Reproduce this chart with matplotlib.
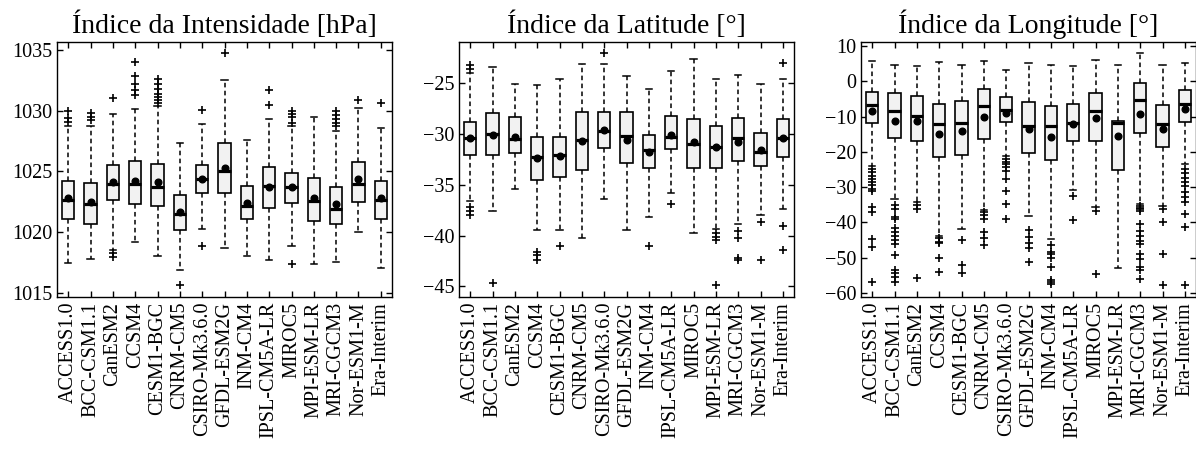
import matplotlib
matplotlib.use("Agg")
import matplotlib.pyplot as plt

plt.rcParams['font.family'] = ['Liberation Serif', 'DejaVu Serif']
plt.rcParams['axes.unicode_minus'] = True

models = ["ACCESS1.0", "BCC-CSM1.1", "CanESM2", "CCSM4", "CESM1-BGC", "CNRM-CM5",
          "CSIRO-Mk3.6.0", "GFDL-ESM2G", "INM-CM4", "IPSL-CM5A-LR", "MIROC5",
          "MPI-ESM-LR", "MRI-CGCM3", "Nor-ESM1-M", "Era-Interim"]

titles = ["Índice da Intensidade [hPa]", "Índice da Latitude [°]", "Índice da Longitude [°]"]

# ---- Intensity index [hPa] ----
int_q1 = [1021.1, 1020.7, 1022.7, 1022.3, 1022.2, 1020.2, 1023.2, 1023.2, 1021.1, 1022.0, 1022.4, 1020.95, 1020.65, 1022.5, 1021.1]
int_med = [1022.63, 1022.3, 1024.0, 1024.0, 1023.7, 1021.5, 1024.4, 1025.05, 1022.2, 1023.8, 1023.7, 1022.6, 1021.95, 1024.0, 1022.7]
int_q3 = [1024.24, 1024.05, 1025.5, 1025.85, 1025.6, 1023.1, 1025.55, 1027.35, 1023.8, 1025.35, 1024.9, 1024.5, 1023.7, 1025.75, 1024.2]
int_mean = [1022.8, 1022.5, 1024.1, 1024.25, 1024.1, 1021.65, 1024.4, 1025.3, 1022.4, 1023.7, 1023.7, 1022.85, 1022.35, 1024.35, 1022.85]
int_lo = [1017.5, 1017.85, 1018.55, 1019.2, 1018.1, 1016.95, 1020.3, 1018.7, 1018.05, 1017.7, 1018.9, 1017.4, 1017.6, 1020.05, 1017.1]
int_hi = [1028.7, 1028.7, 1029.7, 1030.15, 1030.4, 1027.35, 1028.9, 1032.5, 1027.6, 1029.3, 1028.75, 1029.5, 1028.3, 1030.25, 1028.6]
int_fliers = [
    [1030.0, 1029.4, 1029.05],
    [1029.8, 1029.5, 1029.2],
    [1031.0, 1018.3, 1018.0],
    [1034.0, 1032.8, 1032.2, 1031.7, 1031.3],
    [1032.6, 1032.2, 1031.8, 1031.4, 1031.15, 1030.9, 1030.65],
    [1015.65],
    [1030.05, 1018.9],
    [1034.7],
    [],
    [1031.7, 1030.45],
    [1030.0, 1029.75, 1029.5, 1029.0, 1017.4],
    [],
    [1030.0, 1029.6, 1029.3, 1029.0, 1028.7],
    [1030.85],
    [1030.6],
]

# ---- Latitude index [deg] ----
lat_q1 = [-32.1, -32.1, -31.9, -34.5, -34.3, -33.55, -31.4, -32.85, -33.4, -31.5, -33.4, -33.4, -32.7, -33.2, -32.3]
lat_med = [-30.4, -30.0, -30.55, -32.25, -32.1, -30.6, -29.7, -30.2, -31.6, -30.35, -31.05, -31.35, -30.45, -31.8, -30.45]
lat_q3 = [-28.8, -28.0, -28.4, -30.35, -30.3, -27.85, -27.85, -27.85, -30.1, -28.25, -28.55, -29.2, -28.5, -29.9, -28.6]
lat_mean = [-30.4, -30.1, -30.3, -32.4, -32.2, -30.7, -29.6, -30.65, -31.75, -30.1, -30.8, -31.35, -30.8, -31.6, -30.45]
lat_lo = [-36.6, -37.6, -35.4, -39.5, -39.5, -40.25, -36.45, -39.45, -38.2, -35.8, -39.8, -39.35, -38.9, -38.0, -37.4]
lat_hi = [-24.0, -23.4, -25.15, -25.2, -24.65, -23.15, -23.15, -24.35, -25.6, -23.85, -22.65, -24.6, -24.2, -25.1, -24.6]
lat_fliers = [
    [-23.2, -23.6, -37.2, -37.6, -38.0],
    [-44.7],
    [],
    [-41.6, -41.9, -42.4],
    [-41.0],
    [],
    [-22.1],
    [],
    [-41.0],
    [-36.95],
    [],
    [-39.8, -40.1, -40.4, -44.9],
    [-39.6, -40.2, -42.2, -42.4],
    [-38.7, -42.4],
    [-23.1, -39.1, -41.4],
]

# ---- Longitude index [deg] ----
lon_q1 = [-11.8, -16.1, -16.8, -21.4, -20.9, -16.4, -11.6, -20.4, -22.3, -16.8, -16.8, -25.2, -14.5, -18.5, -11.4]
lon_med = [-6.6, -8.3, -9.9, -12.0, -11.9, -7.0, -8.2, -12.7, -12.7, -11.7, -8.4, -11.7, -5.4, -12.0, -6.3]
lon_q3 = [-3.1, -3.3, -4.2, -6.3, -5.6, -2.2, -4.4, -5.8, -6.9, -6.3, -3.4, -11.3, -0.4, -6.7, -2.5]
lon_mean = [-8.3, -11.3, -11.3, -14.8, -14.2, -10.1, -8.9, -13.6, -15.7, -12.0, -10.5, -15.5, -9.3, -13.6, -7.7]
lon_lo = [-24.0, -33.3, -34.3, -43.9, -41.8, -36.6, -21.1, -38.2, -44.8, -30.7, -35.6, -52.9, -34.8, -35.3, -23.5]
lon_hi = [5.7, 4.7, 4.5, 5.6, 4.7, 5.9, 3.3, 5.2, 4.7, 4.4, 6.1, 4.8, 8.0, 4.8, 5.3]
lon_fliers = [
    [-24.9, -25.8, -26.8, -27.7, -28.6, -29.5, -30.4, -31.0, -35.7, -37.1, -44.8, -47.0, -56.8],
    [-35.2, -36.2, -38.5, -39.0, -41.5, -42.7, -43.9, -45.1, -46.2, -49.2, -53.5, -54.5, -55.5, -56.8],
    [-35.2, -36.2, -55.9],
    [-44.5, -45.5, -46.0, -50.0, -54.0],
    [-45.1, -52.1, -54.4],
    [-37.1, -38.0, -39.0, -42.7, -44.5, -46.5],
    [-22.1, -22.8, -23.5, -24.3, -25.3, -27.8, -31.1, -34.8, -39.0],
    [-42.2, -44.1, -46.0, -47.2, -51.2],
    [-46.5, -48.3, -49.0, -50.2, -52.8, -56.3, -57.0, -57.5],
    [-32.4, -39.3],
    [-36.9, -54.7],
    [],
    [-35.3, -35.8, -36.3, -36.7, -40.5, -42.4, -43.8, -45.2, -46.1, -49.0, -50.4, -52.7, -53.6, -56.0],
    [-36.2, -39.8, -49.0, -57.7],
    [-24.9, -26.0, -27.3, -28.5, -29.6, -31.5, -32.9, -34.3, -37.6, -41.4, -57.9],
]

yticks = [[1015, 1020, 1025, 1030, 1035],
          [-45, -40, -35, -30, -25],
          [-60, -50, -40, -30, -20, -10, 0, 10]]

panels = [
    (int_q1, int_med, int_q3, int_mean, int_lo, int_hi, int_fliers),
    (lat_q1, lat_med, lat_q3, lat_mean, lat_lo, lat_hi, lat_fliers),
    (lon_q1, lon_med, lon_q3, lon_mean, lon_lo, lon_hi, lon_fliers),
]

W, H = 1196, 450
fig = plt.figure(figsize=(W / 100, H / 100), dpi=100)
lefts = [57, 459, 861]
ax_w = 335
ax_top = 41.7
ax_bot = 297

for i, (q1, med, q3, mean, lo, hi, fl) in enumerate(panels):
    ax = fig.add_axes([lefts[i] / W, 1 - ax_bot / H, ax_w / W, (ax_bot - ax_top) / H])
    stats = []
    for k in range(len(models)):
        stats.append(dict(med=med[k], q1=q1[k], q3=q3[k], whislo=lo[k], whishi=hi[k],
                          mean=mean[k], fliers=fl[k], label=models[k]))
    ax.bxp(stats, positions=range(1, len(models) + 1), widths=0.55, patch_artist=True,
           showmeans=True, capwidths=0.27,
           boxprops=dict(facecolor='#f2f2f2', edgecolor='black', linewidth=1.2),
           medianprops=dict(color='black', linewidth=2.3),
           whiskerprops=dict(color='black', linewidth=1.1, linestyle=(0, (3, 2.2))),
           capprops=dict(color='black', linewidth=1.1),
           meanprops=dict(marker='o', markerfacecolor='black', markeredgecolor='black', markersize=4.8),
           flierprops=dict(marker='+', markeredgecolor='black', markersize=6, markeredgewidth=1.2))
    ax.set_xlim(0.5, len(models) + 0.5)
    ax.set_yticks(yticks[i])
    ax.tick_params(axis='both', direction='in', top=True, right=True, labelsize=14.5,
                   length=4.5, width=1)
    ax.set_xticklabels(models, rotation=90)
    for s in ax.spines.values():
        s.set_linewidth(1.0)
    ax.set_title(titles[i], fontsize=20, pad=6)

fig.savefig("out.png", dpi=100)
